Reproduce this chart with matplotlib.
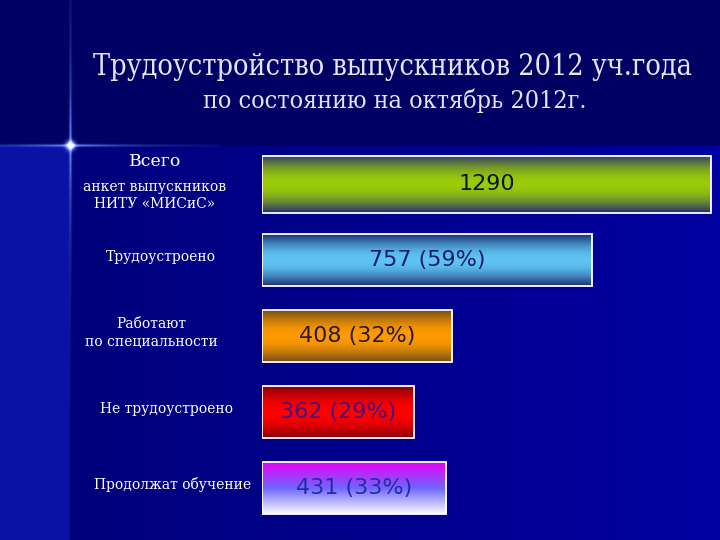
import numpy as np
import matplotlib
matplotlib.use("Agg")
import matplotlib.pyplot as plt
from matplotlib.patches import Rectangle
from matplotlib.transforms import blended_transform_factory
from matplotlib.colors import to_rgb

# ---- data ----
title = "Трудоустройство выпускников 2012 уч.года"
subtitle = "по состоянию на октябрь 2012г."
categories = ["Всего\nанкет выпускников\nНИТУ «МИСиС»", "Трудоустроено",
              "Работают\nпо специальности", "Не трудоустроено", "Продолжат обучение"]
values = [1290, 757, 408, 362, 431]
percents = [None, 59, 32, 29, 33]
# bar lengths as drawn in the original slide (not proportional), same units as values
bar_lengths = [1290, 948, 546, 437, 529]

W, H = 720, 540
fig = plt.figure(figsize=(7.2, 5.4), dpi=100)

# ---- background ----
bg_ax = fig.add_axes([0, 0, 1, 1])
bg_ax.set_axis_off()
yy, xx = np.mgrid[0:H, 0:W].astype(float)
img = np.zeros((H, W, 3))
top = np.array(to_rgb("#000064"))
low_l = np.array(to_rgb("#00007c"))
low_r = np.array(to_rgb("#0000a0"))
strip = np.array(to_rgb("#0a12a6"))
fx = np.clip((xx - 70) / 650, 0, 1)[..., None]
lower = low_l * (1 - fx) + low_r * fx
img[:] = top
mask_low = (yy >= 146)[..., None]
img = np.where(mask_low, lower, img)
mask_strip = ((yy >= 146) & (xx < 70))[..., None]
img = np.where(mask_strip, strip, img)
# flare
fx0, fy0 = 70, 145
hline = np.exp(-((yy - fy0) / 1.3) ** 2) * np.exp(-np.abs(xx - fx0) / 60.0) * (xx < 220)
vline = np.exp(-((xx - fx0) / 1.3) ** 2) * np.exp(-np.abs(yy - fy0) / 70.0)
core = np.exp(-(((xx - fx0) ** 2 + (yy - fy0) ** 2) / 18.0))
glow = np.clip(hline + vline + core, 0, 1)[..., None]
flare_col = np.array(to_rgb("#6a8cff"))
img = img * (1 - glow) + flare_col * glow
img = img + np.clip(core * 1.2, 0, 1)[..., None] * 0.6
img = np.clip(img, 0, 1)
bg_ax.imshow(img, extent=(0, W, H, 0), aspect="auto", interpolation="bilinear")
bg_ax.set_xlim(0, W)
bg_ax.set_ylim(H, 0)

# ---- titles ----
fig.text(393 / W, 1 - 67 / H, title, ha="center", va="center", color="#e4e4f2",
         fontsize=20.6, family="DejaVu Serif", stretch="condensed")
fig.text(395 / W, 1 - 101 / H, subtitle, ha="center", va="center", color="#e4e4f2",
         fontsize=18, family="DejaVu Serif", stretch="condensed")

# ---- bars ----
ax = fig.add_axes([262 / W, (H - 526) / H, (W - 262) / W, 380 / H])
ax.set_xlim(0, (W - 262) * 1290 / 449)
ax.set_ylim(4.5, -0.5)
ax.set_axis_off()
ax.patch.set_alpha(0)


def sym_grad(edge, center, n=120, p=0.55):
    t = np.linspace(0, 1, n)
    f = np.sin(np.pi * t) ** p
    e, c = np.array(to_rgb(edge)), np.array(to_rgb(center))
    return (e[None, :] * (1 - f[:, None]) + c[None, :] * f[:, None])[:, None, :]


def three_grad(c0, c1, c2, n=120):
    t = np.linspace(0, 1, n)
    a, b, c = (np.array(to_rgb(k)) for k in (c0, c1, c2))
    out = np.where(t[:, None] < 0.5,
                   a * (1 - 2 * t[:, None]) + b * 2 * t[:, None],
                   b * (2 - 2 * t[:, None]) + c * (2 * t[:, None] - 1))
    return out[:, None, :]


grads = [
    sym_grad("#28306e", "#9acc06", p=0.9),
    sym_grad("#182a6a", "#5ec4f4", p=0.9),
    sym_grad("#6a4a18", "#ff9a00", p=0.9),
    sym_grad("#800008", "#ff0000", p=0.9),
    three_grad("#e800f8", "#6e66ff", "#fafaff"),
]
heights = [0.75, 0.68, 0.68, 0.68, 0.68]
text_colors = ["#0c1230", "#1c1c6a", "#2a1838", "#4a1080", "#2a2aa0"]

for i, (L, g, h) in enumerate(zip(bar_lengths, grads, heights)):
    ax.imshow(g, extent=(0, L, i + h / 2, i - h / 2), aspect="auto",
              interpolation="bilinear", zorder=2)
    ax.add_patch(Rectangle((0, i - h / 2), L, h, facecolor="none",
                           edgecolor="white", lw=1.3, zorder=3))
    lab = str(values[i]) if percents[i] is None else f"{values[i]} ({percents[i]}%)"
    ax.text(L / 2, i, lab, ha="center", va="center", color=text_colors[i],
            fontsize=16, family="DejaVu Sans", zorder=4)
ax.set_xlim(0, (W - 262) * 1290 / 449)
ax.set_ylim(4.5, -0.5)

# ---- left labels ----
tr = blended_transform_factory(fig.transFigure, ax.transData)
lab_x = [155, 161, 151, 167, 173]
for i, (c, x) in enumerate(zip(categories, lab_x)):
    if i == 0:
        ax.text(x / W, i - 0.29, "Всего", transform=tr, ha="center", va="center",
                color="white", fontsize=12.5, family="DejaVu Serif")
        ax.text(x / W, i + 0.15, "анкет выпускников\nНИТУ «МИСиС»", transform=tr,
                ha="center", va="center", color="white", fontsize=10,
                family="DejaVu Serif", linespacing=1.3)
    else:
        ax.text(x / W, i - 0.04, c, transform=tr, ha="center", va="center", color="white",
                fontsize=10, family="DejaVu Serif", linespacing=1.3)

fig.savefig("out.png", dpi=100, facecolor=fig.get_facecolor())
